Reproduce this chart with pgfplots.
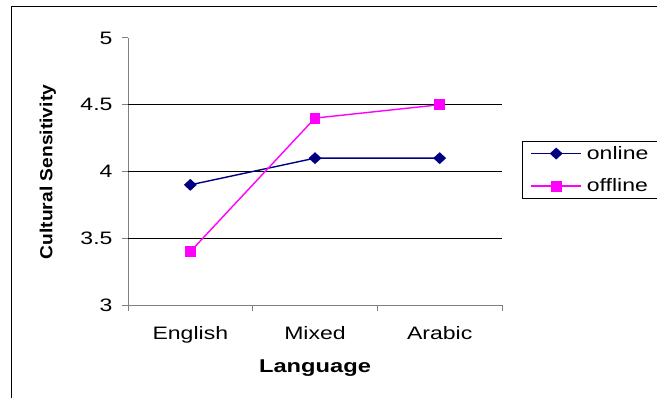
\documentclass[border=0pt]{standalone}
\usepackage{pgfplots}
\pgfplotsset{compat=1.18}
\usepackage{fontspec}
\setmainfont{Liberation Sans}[FakeStretch=1.28]
\newfontfamily\ylabfont{Liberation Sans}[FakeStretch=1.1]
\definecolor{onl}{HTML}{000080}
\definecolor{offl}{HTML}{FF00FF}
\definecolor{axgray}{HTML}{808080}
\begin{document}
\begin{tikzpicture}[x=1bp,y=1bp]
\useasboundingbox (0,0) rectangle (657,398);
\draw[black, line width=1bp] (11,0) -- (11,391) -- (657,391);
\begin{axis}[
  at={(128bp,93bp)}, anchor=south west,
  scale only axis, width=374bp, height=267bp,
  xmin=0.5, xmax=3.5, ymin=3, ymax=5,
  axis x line*=bottom, axis y line*=left,
  axis line style={axgray, line width=1bp, -},
  xtick={1,2,3}, xticklabels={English,Mixed,Arabic},
  major x tick style={draw=none},
  minor xtick={0.5,1.5,2.5,3.5},
  minor tick length=6bp,
  minor x tick style={axgray, line width=1bp},
  ytick={3,3.5,4,4.5,5},
  yticklabels={3,3.5,4,4.5,5},
  major tick length=6bp,
  y tick style={axgray, line width=1bp},
  tick align=outside,
  extra y ticks={3.5,4,4.5},
  extra y tick labels={},
  extra y tick style={grid=major, major grid style={black, line width=1bp}, major tick length=6bp},
  /pgf/number format/assume math mode=true,
  tick label style={font=\fontsize{18bp}{21bp}\selectfont},
  yticklabel style={anchor=east, xshift=-6bp},
  xticklabel style={anchor=north, yshift=-12bp},
  xlabel={\bfseries Language},
  xlabel style={font=\fontsize{18.5bp}{21bp}\selectfont, at={(axis description cs:0.5,-0.235)}, anchor=center},
  ylabel={\ylabfont\bfseries Cultural Sensitivity},
  ylabel style={font=\fontsize{17.5bp}{20bp}\selectfont, at={(axis description cs:-0.214,0.498)}, anchor=center, rotate=0},
  legend style={at={(rel axis cs:1.0535,0.615)}, anchor=north west, draw=black, line width=1bp,
    font=\fontsize{18bp}{21bp}\selectfont, inner xsep=8bp, inner ysep=3bp, row sep=14bp, column sep=3bp,
    cells={anchor=west}},
  legend image code/.code={
    \draw[mark repeat=2,mark phase=2,#1] plot coordinates {(0bp,0bp) (25bp,0bp) (50bp,0bp)};
  },
  clip=false,
]
\addplot[onl, line width=1.4bp, mark=diamond*, mark size=5bp, mark options={xscale=1.45, fill=onl, draw=onl}]
  coordinates {(1,3.9) (2,4.1) (3,4.1)};
\addlegendentry{online}
\addplot[offl, line width=1.4bp, mark=square*, mark size=4.75bp, mark options={fill=offl, draw=offl}]
  coordinates {(1,3.4) (2,4.4) (3,4.5)};
\addlegendentry{offline}
\end{axis}
\end{tikzpicture}
\end{document}
